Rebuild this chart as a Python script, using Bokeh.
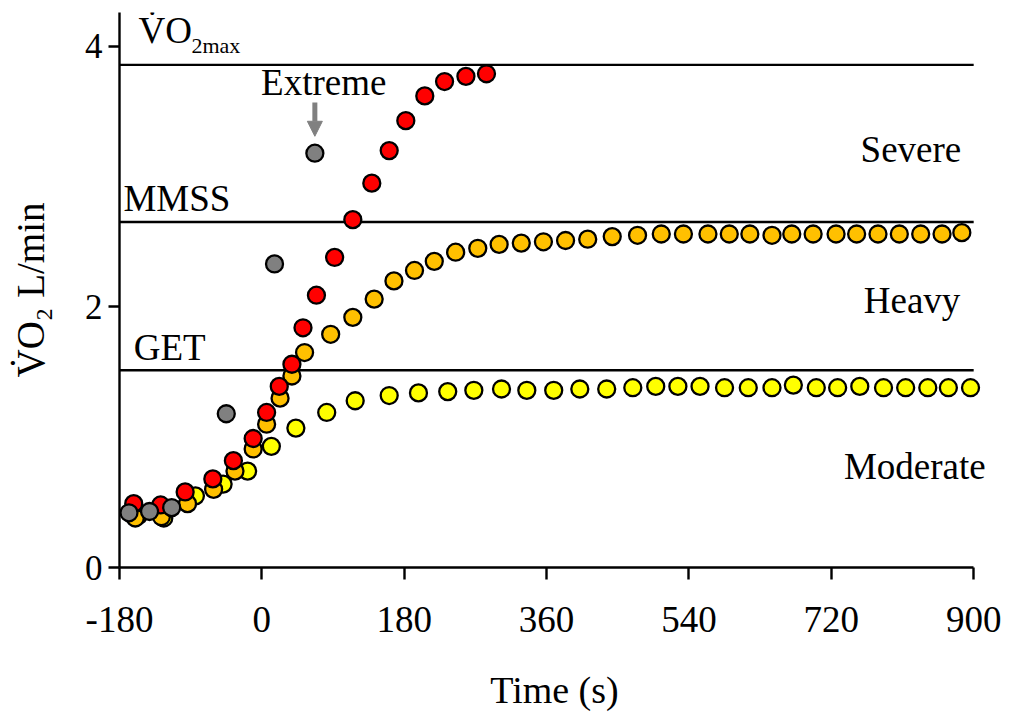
from bokeh.plotting import figure
from bokeh.models import Range1d, FixedTicker, Label, Arrow, NormalHead
from bokeh.embed import file_html
from bokeh.resources import INLINE

# Oxygen uptake responses (L/min) against time (s) from exercise onset
moderate_t = [-156, -124, -84, -49, -18, 12, 43, 82, 118, 161, 198, 235, 268, 303, 335,
              369, 402, 436, 469, 498, 526, 554, 585, 615, 645, 672, 701, 728, 756, 786,
              814, 842, 868, 896]
moderate_vo2 = [0.40, 0.38, 0.55, 0.64, 0.74, 0.93, 1.07, 1.19, 1.28, 1.32, 1.34, 1.35, 1.36,
                1.37, 1.36, 1.36, 1.37, 1.37, 1.38, 1.39, 1.39, 1.39, 1.38, 1.38, 1.38, 1.40,
                1.38, 1.38, 1.39, 1.38, 1.38, 1.38, 1.38, 1.38]

heavy_t = [-160, -127, -94, -61, -34, -11, 6, 23, 38, 54, 87, 115, 142, 167, 193, 218, 245,
           273, 300, 328, 356, 384, 412, 443, 475, 505, 533, 564, 591, 617, 645, 670, 697,
           726, 752, 779, 806, 833, 860, 885]
heavy_vo2 = [0.38, 0.39, 0.49, 0.60, 0.74, 0.91, 1.10, 1.30, 1.47, 1.65, 1.79, 1.92, 2.06,
             2.20, 2.28, 2.35, 2.42, 2.45, 2.48, 2.49, 2.50, 2.51, 2.52, 2.54, 2.55, 2.56,
             2.56, 2.56, 2.56, 2.56, 2.55, 2.56, 2.56, 2.56, 2.56, 2.56, 2.56, 2.56, 2.56, 2.57]

severe_t = [-162, -128, -97, -62, -36, -11, 6, 22, 38, 52, 69, 92, 115, 139, 161, 182, 206,
            231, 258, 284]
severe_vo2 = [0.49, 0.48, 0.58, 0.68, 0.82, 0.99, 1.19, 1.39, 1.56, 1.84, 2.09, 2.38, 2.67,
              2.95, 3.20, 3.43, 3.62, 3.73, 3.77, 3.79]

extreme_t = [-168, -142, -114, -45, 16, 67]
extreme_vo2 = [0.42, 0.43, 0.46, 1.18, 2.33, 3.18]

# Threshold levels (L/min)
threshold_names = ["VO2max", "MMSS", "GET"]
threshold_vo2 = [3.858, 2.652, 1.514]

x_ticks = [-180, 0, 180, 360, 540, 720, 900]
x_tick_labels = ["-180", "0", "180", "360", "540", "720", "900"]
y_ticks = [0, 2, 4]

FONT = "Liberation Serif"

p = figure(frame_width=870, frame_height=555,
           x_range=Range1d(-180, 920), y_range=Range1d(0, 4.26),
           output_backend="svg", toolbar_location=None,
           min_border_left=119, min_border_top=12, min_border_right=21,
           min_border_bottom=148, background_fill_color="white",
           border_fill_color="white")
p.outline_line_color = None
p.grid.visible = False

# threshold lines
for level in threshold_vo2:
    p.segment(x0=x_ticks[0], x1=x_ticks[-1], y0=level, y1=level,
              line_color="black", line_width=2.4)

marker = dict(size=17, line_color="black", line_width=2.3)
p.scatter(moderate_t, moderate_vo2, fill_color="#FFFF00", **marker)
p.scatter(heavy_t, heavy_vo2, fill_color="#FFC000", **marker)
p.scatter(severe_t, severe_vo2, fill_color="#FF0000", **marker)
p.scatter(extreme_t, extreme_vo2, fill_color="#808080", **marker)

# axes
for ax in (p.xaxis[0], p.yaxis[0]):
    ax.axis_line_width = 2.4
    ax.major_tick_line_width = 2.4
    ax.major_tick_in = 0
    ax.minor_tick_line_color = None
    ax.major_label_text_font = FONT
    ax.major_label_text_color = "black"
    ax.axis_label_text_font = FONT
    ax.axis_label_text_font_style = "normal"
    ax.axis_label_text_color = "black"

p.xaxis.ticker = FixedTicker(ticks=x_ticks)
p.xaxis.major_label_overrides = dict(zip(x_ticks, x_tick_labels))
p.xaxis.bounds = (x_ticks[0], x_ticks[-1])
p.xaxis.major_tick_out = 12
p.xaxis.major_label_text_font_size = "37px"
p.xaxis.major_label_standoff = 27
p.xaxis.axis_label = "Time (s)"
p.xaxis.axis_label_text_font_size = "38px"
p.xaxis.axis_label_standoff = 34

p.yaxis.ticker = FixedTicker(ticks=y_ticks)
p.yaxis.major_tick_out = 11
p.yaxis.major_label_text_font_size = "35px"
p.yaxis.major_label_standoff = 6
p.yaxis.axis_label = "V\u0307O\u2082 L/min"
p.yaxis.axis_label_text_font_size = "39px"
p.yaxis.axis_label_standoff = 30

text = dict(text_font=FONT, text_color="black", text_baseline="alphabetic")
p.add_layout(Label(x=-156, y=4.12, text="V\u0307O", text_font_size="37px", **text))
p.add_layout(Label(x=-89, y=4.01, text="2max", text_font_size="22px", **text))
p.add_layout(Label(x=-175, y=2.83, text="MMSS", text_font_size="37px", **text))
p.add_layout(Label(x=-162, y=1.69, text="GET", text_font_size="37px", **text))
p.add_layout(Label(x=-1, y=3.725, text="Extreme", text_font_size="37px", **text))
p.add_layout(Label(x=757, y=3.21, text="Severe", text_font_size="37px", **text))
p.add_layout(Label(x=761, y=2.05, text="Heavy", text_font_size="37px", **text))
p.add_layout(Label(x=736, y=0.775, text="Moderate", text_font_size="37px", **text))

p.add_layout(Arrow(end=NormalHead(size=15, fill_color="#808080", line_color="#808080"),
                   x_start=extreme_t[-1], y_start=3.57, x_end=extreme_t[-1], y_end=3.31,
                   line_color="#808080", line_width=5))

open("out.html", "w").write(file_html(p, INLINE))
